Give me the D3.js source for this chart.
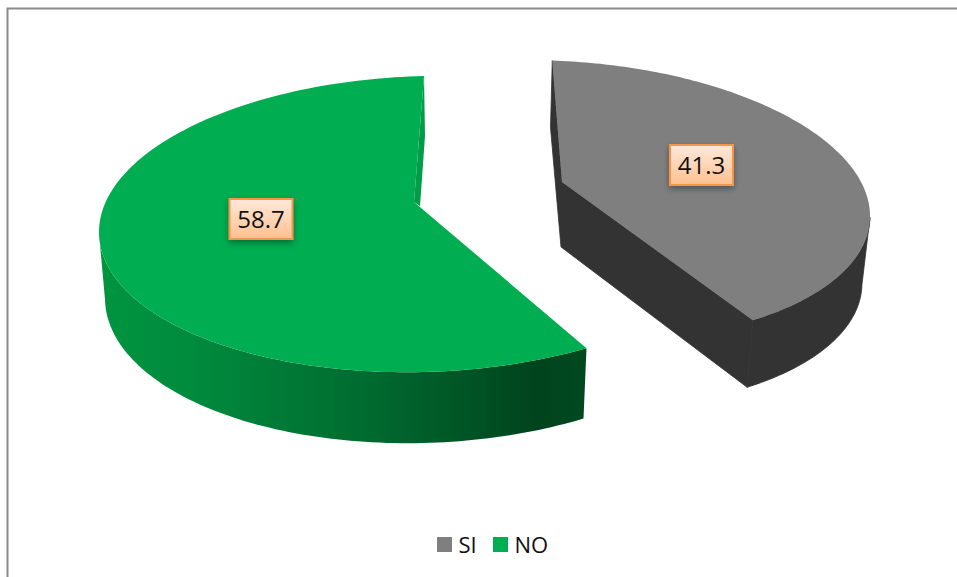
<!DOCTYPE html>
<html>
<head>
<meta charset="utf-8">
<style>html,body{margin:0;padding:0;background:#fff;overflow:hidden}svg{display:block}</style>
<script src="https://cdn.jsdelivr.net/npm/d3@7"></script>
</head>
<body>
<svg id="chart" width="957" height="577"></svg>
<script>
const categories = ["SI", "NO"];
const seriesValues = [41.3, 58.7];
const topColors = ["#7f7f7f", "#00ad50"];

const W = 957, H = 577;
const FONT = "'Open Sans', sans-serif";
const svg = d3.select("#chart");
const defs = svg.append("defs");

// Oblique view of each exploded slice: the two ellipses are its top and bottom rims.
const views = {
  SI: {
    top: {cx: 563, cy: 201, rx: 307, ry: 140, skew: 15},
    low: {cx: 561, cy: 268, rx: 301, ry: 140, skew: 15},
    sweep: [-2, 141.8], apex: [562, 182], lowApex: [561, 247],
    wallFrom: 90, label: [701.5, 165], wall: "#333333", inner: "#333333"
  },
  NO: {
    top: {cx: 424, cy: 224, rx: 325, ry: 148, skew: -8},
    low: {cx: 424, cy: 290, rx: 319, ry: 153, skew: -8},
    sweep: [150, 360], apex: [414, 202], lowApex: [420, 206],
    wallTo: 270, label: [261, 219], wall: "url(#sideGreen)", inner: "#009d48"
  }
};

const rad = d => d * Math.PI / 180;
const rimPoint = (e, deg) => [
  e.cx + e.rx * Math.sin(rad(deg)),
  e.cy - e.ry * Math.cos(rad(deg)) + e.skew * Math.sin(rad(deg))
];
const line = d3.line();
const color = d3.scaleOrdinal(categories, topColors);

const grad = defs.append("linearGradient").attr("id", "sideGreen")
  .attr("gradientUnits", "userSpaceOnUse")
  .attr("x1", 99).attr("x2", 587).attr("y1", 0).attr("y2", 0);
[[0, "#00953f"], [0.2, "#008a3d"], [0.35, "#007c37"], [0.55, "#006b2f"],
 [0.7, "#005a28"], [0.9, "#00431c"], [1, "#004a20"]].forEach(([o, c]) =>
  grad.append("stop").attr("offset", o).attr("stop-color", c));

const boxGrad = defs.append("linearGradient").attr("id", "boxFill")
  .attr("x1", 0).attr("x2", 0).attr("y1", 0).attr("y2", 1);
boxGrad.append("stop").attr("offset", 0).attr("stop-color", "#ffe9db");
boxGrad.append("stop").attr("offset", 1).attr("stop-color", "#ffc08f");

defs.append("filter").attr("id", "boxShadow")
  .attr("x", "-30%").attr("y", "-30%").attr("width", "160%").attr("height", "170%")
  .append("feDropShadow").attr("dx", 0).attr("dy", 3).attr("stdDeviation", 3)
  .attr("flood-color", "#000").attr("flood-opacity", 0.35);

// Chart frame
svg.append("path").attr("d", `M7.5,${H} V8.5 H${W}`)
  .attr("fill", "none").attr("stroke", "#8a8a8a").attr("stroke-width", 2);

const slices = d3.pie().sort(null)(seriesValues);

slices.forEach((slice, i) => {
  const name = categories[i];
  const v = views[name];
  const toView = d3.scaleLinear().domain([slice.startAngle, slice.endAngle]).range(v.sweep);
  const steps = d3.range(0, 161).map(k => slice.startAngle + (slice.endAngle - slice.startAngle) * k / 160);
  const degs = steps.map(toView);
  const rimTop = degs.map(d => rimPoint(v.top, d));
  const g = svg.append("g").attr("class", "slice-" + name);

  // Outer wall
  const visible = degs.filter(d => name === "SI" ? d >= v.wallFrom : d <= v.wallTo);
  const wallPts = visible.map(d => rimPoint(v.top, d))
    .concat(visible.slice().reverse().map(d => rimPoint(v.low, d)));
  g.append("path").attr("d", line(wallPts) + "Z").attr("fill", v.wall)
    .attr("stroke", name === "SI" ? v.wall : "none").attr("stroke-width", 0.8);

  // Cut face
  const startTop = rimTop[0], endTop = rimTop[rimTop.length - 1];
  if (name === "SI") {
    const startLow = rimPoint(v.low, v.sweep[0]);
    const endLow = rimPoint(v.low, v.sweep[1]);
    g.append("path").attr("d", line([startTop, startLow, v.lowApex, endLow, endTop, v.apex]) + "Z")
      .attr("fill", v.inner).attr("stroke", v.inner).attr("stroke-width", 0.8);
  } else {
    g.append("path").attr("d", line([endTop, [endTop[0] + 1, endTop[1] + 60], v.lowApex, v.apex]) + "Z")
      .attr("fill", v.inner);
  }

  // Top face
  g.append("path").attr("d", line([v.apex].concat(rimTop)) + "Z").attr("fill", color(name));
});

// Value labels
slices.forEach((slice, i) => {
  const [lx, ly] = views[categories[i]].label;
  const w = 63, h = 40;
  const g = svg.append("g").attr("transform", `translate(${lx},${ly})`);
  g.append("rect").attr("x", -w / 2).attr("y", -h / 2).attr("width", w).attr("height", h)
    .attr("fill", "url(#boxFill)").attr("stroke", "#f79646").attr("stroke-width", 2)
    .attr("filter", "url(#boxShadow)");
  g.append("text").attr("text-anchor", "middle").attr("y", 8.5)
    .attr("font-family", FONT).attr("font-size", 24).attr("fill", "#111")
    .text(d3.format(".1f")(slice.value));
});

// Legend
const legendBox = 15;
const legendX = d3.scaleOrdinal(categories, [437, 493]);
const legend = svg.append("g");
categories.forEach(c => {
  legend.append("rect").attr("x", legendX(c)).attr("y", 537)
    .attr("width", legendBox).attr("height", legendBox).attr("fill", color(c));
  legend.append("text").attr("x", legendX(c) + legendBox + 6.5).attr("y", 552.5)
    .attr("font-family", FONT).attr("font-size", 22).attr("fill", "#111").text(c);
});
</script>
</body>
</html>
